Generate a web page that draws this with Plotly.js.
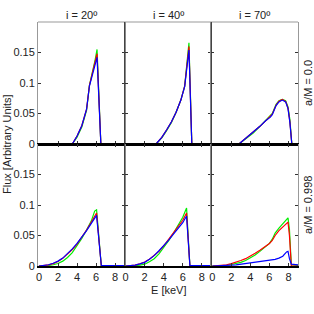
<!DOCTYPE html>
<html>
<head>
<meta charset="utf-8">
<script src="https://cdn.plot.ly/plotly-3.0.1.min.js"></script>
<style>html,body{margin:0;padding:0;background:#fff;}#chart{width:314px;height:314px;}</style>
</head>
<body>
<div id="chart"></div>
<script>
// Column / row labels
const columnLabels = ["i = 20º", "i = 40º", "i = 70º"];
const rowLabels = ["a/M = 0.0", "a/M = 0.998"];
const xTickVals = [0, 2, 4, 6, 8];
const yTickVals = [0, 0.05, 0.1, 0.15];
const yTickText = ["0", "0.05", "0.1", "0.15"];

// a/M = 0.0, i = 20
const E_a0_i20 = [3.5, 4.0, 4.5, 5.0, 5.3, 5.6, 5.9, 6.1, 6.5, 9];
const red_a0_i20 = [0, 0.013, 0.030, 0.057, 0.096, 0.114, 0.134, 0.148, 0, 0];
const green_a0_i20 = [0, 0.011, 0.028, 0.055, 0.096, 0.116, 0.138, 0.155, 0, 0];
const blue_a0_i20 = [0, 0.013, 0.030, 0.057, 0.095, 0.112, 0.130, 0.142, 0, 0];

// a/M = 0.0, i = 40
const E_a0_i40 = [3.2, 3.8, 4.3, 4.8, 5.3, 5.8, 6.2, 6.45, 6.65, 6.95, 9];
const red_a0_i40 = [0, 0.011, 0.023, 0.036, 0.052, 0.072, 0.095, 0.128, 0.160, 0, 0];
const green_a0_i40 = [0, 0.010, 0.022, 0.035, 0.052, 0.072, 0.095, 0.130, 0.166, 0, 0];
const blue_a0_i40 = [0, 0.011, 0.023, 0.036, 0.052, 0.072, 0.094, 0.125, 0.154, 0, 0];

// a/M = 0.0, i = 70
const E_a0_i70 = [2.8, 3.5, 4.3, 5.0, 5.6, 6.1, 6.3, 6.7, 7.0, 7.35, 7.7, 7.95, 8.15, 8.35, 9];
const red_a0_i70 = [0, 0.009, 0.019, 0.029, 0.038, 0.045, 0.049, 0.064, 0.070, 0.073, 0.070, 0.059, 0.036, 0, 0];
const green_a0_i70 = [0, 0.008, 0.018, 0.029, 0.039, 0.046, 0.050, 0.065, 0.071, 0.073, 0.071, 0.061, 0.040, 0, 0];
const blue_a0_i70 = [0, 0.009, 0.019, 0.029, 0.038, 0.044, 0.048, 0.063, 0.069, 0.072, 0.069, 0.058, 0.035, 0, 0];

// a/M = 0.998, i = 20
const E_a998_i20 = [0, 0.5, 1.0, 1.5, 2.0, 2.5, 3.0, 3.5, 4.0, 4.5, 5.0, 5.5, 5.85, 6.05, 6.55, 9];
const red_a998_i20 = [0, 0.0005, 0.0018, 0.004, 0.0075, 0.0125, 0.019, 0.027, 0.036, 0.047, 0.059, 0.072, 0.081, 0.087, 0, 0];
const green_a998_i20 = [0, 0.0002, 0.0008, 0.002, 0.004, 0.008, 0.014, 0.022, 0.033, 0.045, 0.059, 0.074, 0.090, 0.092, 0, 0];
const blue_a998_i20 = [0, 0.0005, 0.002, 0.0045, 0.008, 0.013, 0.020, 0.028, 0.037, 0.047, 0.058, 0.070, 0.078, 0.083, 0.0005, 0.0005];

// a/M = 0.998, i = 40
const E_a998_i40 = [0, 0.5, 1, 1.5, 2, 2.5, 3, 3.5, 4, 4.5, 5, 5.5, 6, 6.4, 6.75, 9];
const red_a998_i40 = [0, 0.0005, 0.0015, 0.0035, 0.0065, 0.011, 0.017, 0.024, 0.033, 0.043, 0.053, 0.064, 0.075, 0.087, 0, 0];
const green_a998_i40 = [0, 0, 0.0005, 0.0015, 0.003, 0.007, 0.012, 0.020, 0.030, 0.041, 0.053, 0.066, 0.080, 0.095, 0, 0];
const blue_a998_i40 = [0, 0.0005, 0.0015, 0.0035, 0.006, 0.011, 0.017, 0.025, 0.033, 0.042, 0.052, 0.062, 0.071, 0.082, 0.0005, 0.0005];

// a/M = 0.998, i = 70
const E_a998_i70 = [0, 1, 1.5, 2, 2.5, 3, 3.5, 4, 4.5, 5, 5.5, 6, 6.3, 6.6, 7.0, 7.4, 7.8, 7.95, 8.1, 8.3, 9];
const red_a998_i70 = [0, 0.001, 0.002, 0.004, 0.006, 0.009, 0.012, 0.016, 0.021, 0.026, 0.031, 0.037, 0.042, 0.050, 0.058, 0.064, 0.069, 0.072, 0.050, 0, 0];
const green_a998_i70 = [0, 0.0005, 0.0012, 0.0025, 0.004, 0.006, 0.009, 0.013, 0.018, 0.024, 0.030, 0.037, 0.044, 0.054, 0.062, 0.069, 0.076, 0.079, 0.060, 0.002, 0.001];
const blue_a998_i70 = [0, 0.0003, 0.0008, 0.0015, 0.002, 0.003, 0.004, 0.005, 0.006, 0.007, 0.008, 0.009, 0.010, 0.011, 0.013, 0.016, 0.023, 0.024, 0.012, 0.003, 0.002];

const panels = [
  {E: E_a0_i20, r: red_a0_i20, g: green_a0_i20, b: blue_a0_i20},
  {E: E_a0_i40, r: red_a0_i40, g: green_a0_i40, b: blue_a0_i40},
  {E: E_a0_i70, r: red_a0_i70, g: green_a0_i70, b: blue_a0_i70},
  {E: E_a998_i20, r: red_a998_i20, g: green_a998_i20, b: blue_a998_i20},
  {E: E_a998_i40, r: red_a998_i40, g: green_a998_i40, b: blue_a998_i40},
  {E: E_a998_i70, r: red_a998_i70, g: green_a998_i70, b: blue_a998_i70}
];

const FONT = "Liberation Sans, Arial, sans-serif";
const traces = [];
const layout = {
  width: 314, height: 314,
  margin: {l: 38, r: 16, t: 22, b: 48},
  paper_bgcolor: "#fff", plot_bgcolor: "#fff",
  showlegend: false,
  font: {family: FONT, size: 11, color: "#222"},
  annotations: [], shapes: []
};

const colDom = [[0, 1/3], [1/3, 2/3], [2/3, 1]];
const rowDom = [[0.5, 1], [0, 0.5]];

panels.forEach((p, i) => {
  const n = i + 1;
  const row = Math.floor(i / 3), col = i % 3;
  const xa = n === 1 ? "x" : "x" + n, ya = n === 1 ? "y" : "y" + n;
  [["g", "#00ee00"], ["r", "#ff0000"], ["b", "#0000ff"]].forEach(([k, c]) => {
    traces.push({x: p.E, y: p[k], xaxis: xa, yaxis: ya, type: "scatter", mode: "lines",
      line: {color: c, width: 1.2}, hoverinfo: "skip"});
  });
  layout["xaxis" + (n === 1 ? "" : n)] = {
    domain: colDom[col], anchor: ya, range: [-0.1, 9],
    tickvals: xTickVals, ticks: "inside", ticklen: 3, tickcolor: "#333",
    showticklabels: row === 1, showgrid: false, zeroline: false,
    showline: true, linecolor: "#000", linewidth: 1.5,
    mirror: row === 1 ? "ticks" : false,
    tickfont: {family: FONT, size: 11, color: "#222"}
  };
  layout["yaxis" + (n === 1 ? "" : n)] = {
    domain: rowDom[row], anchor: xa, range: [0, 0.2],
    tickvals: yTickVals, ticktext: yTickText, ticks: "inside", ticklen: 3, tickcolor: "#333",
    showticklabels: col === 0, showgrid: false, zeroline: false,
    showline: true, linecolor: "#999", linewidth: 1, mirror: "ticks",
    tickfont: {family: FONT, size: 11, color: "#222"}
  };
});

// frame: top border grey, dividers dark
layout.shapes.push({type: "line", xref: "paper", yref: "paper", x0: 0, x1: 1, y0: 1, y1: 1, line: {color: "#999", width: 1}});
layout.shapes.push({type: "line", xref: "paper", yref: "paper", x0: 1/3, x1: 1/3, y0: 0, y1: 1, line: {color: "#333", width: 1}});
layout.shapes.push({type: "line", xref: "paper", yref: "paper", x0: 2/3, x1: 2/3, y0: 0, y1: 1, line: {color: "#333", width: 1}});

columnLabels.forEach((t, c) => {
  layout.annotations.push({text: t, xref: "paper", yref: "paper", x: (colDom[c][0] + colDom[c][1]) / 2,
    y: 1, xanchor: "center", yanchor: "bottom", yshift: -1, showarrow: false,
    font: {family: FONT, size: 11, color: "#222"}});
});
rowLabels.forEach((t, r) => {
  layout.annotations.push({text: t, xref: "paper", yref: "paper", x: 1,
    y: (rowDom[r][0] + rowDom[r][1]) / 2, xanchor: "left", yanchor: "middle", xshift: 2,
    textangle: -90, showarrow: false, font: {family: FONT, size: 11, color: "#222"}});
});
layout.annotations.push({text: "Flux [Arbitrary Units]", xref: "paper", yref: "paper", x: 0, y: 0.5,
  xanchor: "center", yanchor: "middle", xshift: -31, textangle: -90, showarrow: false,
  font: {family: FONT, size: 11, color: "#222"}});
layout.annotations.push({text: "E [keV]", xref: "paper", yref: "paper", x: 0.5, y: 0,
  xanchor: "center", yanchor: "middle", yshift: -24, showarrow: false,
  font: {family: FONT, size: 11, color: "#222"}});

Plotly.newPlot("chart", traces, layout, {staticPlot: true, displayModeBar: false});
</script>
</body>
</html>
